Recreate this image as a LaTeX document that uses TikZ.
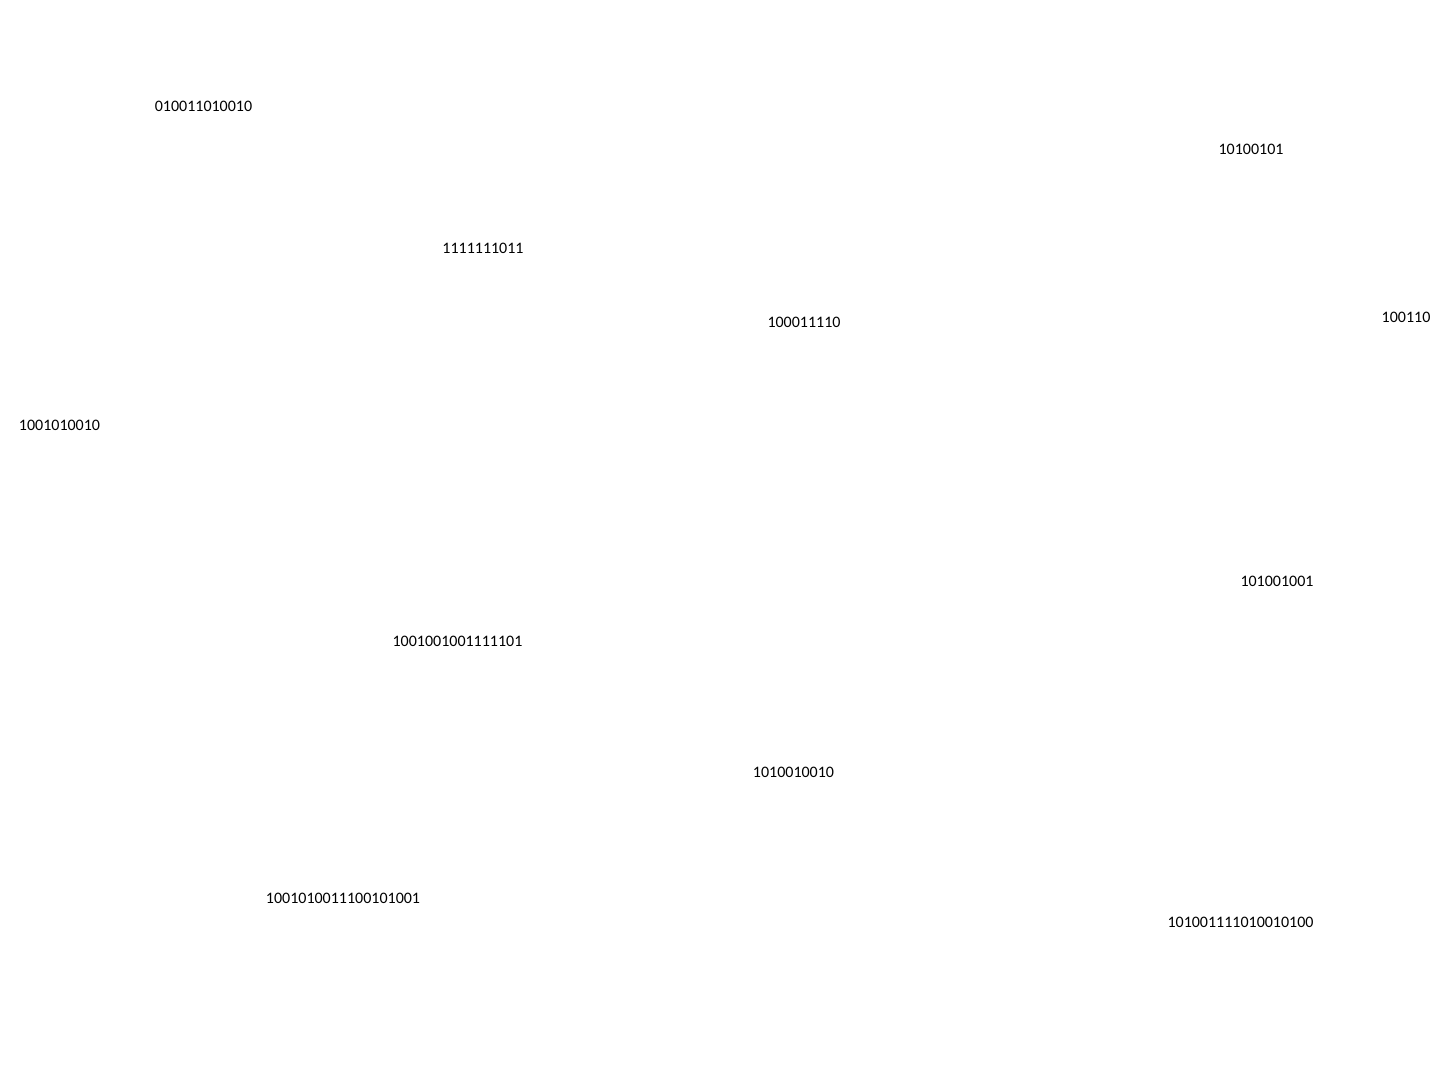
\documentclass[tikz,border=0pt]{standalone}
\usepackage{fontspec}
\setmainfont{Carlito}
\newcommand{\placecode}[3]{% Parameters: name, position, bits
  \node[code] (#1) at (#2) {#3};
}

\begin{document}
\begin{tikzpicture}[x=1pt,y=-1pt,code/.style={font=\fontsize{16}{19}\selectfont,inner sep=0pt}]
    \useasboundingbox (0,0) rectangle (1440,1080);
    \placecode{ca}{203.5,106}{010011010010}
    \placecode{cb}{1251,149}{10100101}
    \placecode{cc}{483,248}{1111111011}
    \placecode{cd}{804,322}{100011110}
    \placecode{ce}{1406,317}{100110}
    \placecode{cf}{59.5,425}{1001010010}
    \placecode{cg}{1277,581}{101001001}
    \placecode{ch}{457.5,641}{1001001001111101}
    \placecode{ci}{793.5,772}{1010010010}
    \placecode{cj}{343,898}{1001010011100101001}
    \placecode{ck}{1240.5,922}{101001111010010100}
  \end{tikzpicture}
\end{document}
